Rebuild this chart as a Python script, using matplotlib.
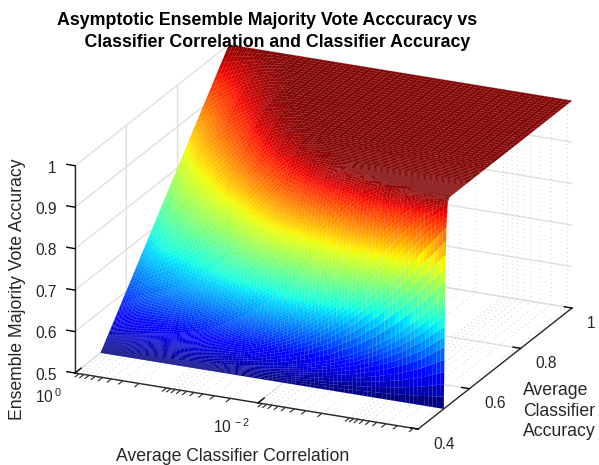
import numpy as np
import matplotlib
matplotlib.use("Agg")
import matplotlib.pyplot as plt
import matplotlib.transforms as mtrans
from mpl_toolkits.mplot3d import proj3d

plt.rcParams['font.family'] = ['Liberation Sans', 'DejaVu Sans']
plt.rcParams['mathtext.fontset'] = 'custom'
plt.rcParams['mathtext.rm'] = 'Liberation Sans'
plt.rcParams['mathtext.default'] = 'regular'

# decades below 1 of the average classifier correlation (10^-d)
corr_decades = [0, .25, .5, .75, 1, 1.25, 1.5, 1.75, 2, 2.25, 2.5, 2.75, 3, 3.25, 3.5, 3.75]
accuracy = [.5, .5025, .505, .51, .515, .52, .525, .53, .54, .55, .56, .57, .58, .6, .63, .66,
            .7, .75, .8, .85, .9, .95, 1]
vote_acc = [
    [.5, .5, .5, .5, .5, .5, .5, .5, .5, .5, .5, .5, .5, .5, .5, .5],
    [.5025, .5035, .504, .505, .506, .508, .511, .515, .52, .527, .535, .547, .563, .583, .61, .647],
    [.505, .507, .508, .51, .513, .517, .522, .53, .54, .553, .571, .594, .624, .663, .712, .773],
    [.51, .514, .517, .52, .525, .533, .545, .56, .579, .605, .639, .682, .736, .80, .869, .933],
    [.515, .521, .525, .53, .538, .55, .567, .589, .618, .655, .703, .761, .829, .898, .954, .988],
    [.52, .528, .534, .54, .55, .567, .589, .618, .655, .703, .762, .828, .897, .954, .988, .999],
    [.525, .534, .542, .55, .563, .583, .61, .647, .691, .748, .813, .882, .943, .983, .998, 1],
    [.53, .54, .55, .56, .575, .60, .632, .674, .726, .788, .857, .922, .971, .994, 1, 1],
    [.54, .555, .567, .58, .60, .632, .673, .726, .788, .857, .922, .971, .994, 1, 1, 1],
    [.55, .569, .584, .60, .625, .664, .714, .775, .843, .91, .963, .991, .999, 1, 1, 1],
    [.56, .583, .60, .62, .649, .695, .752, .819, .887, .946, .984, .998, 1, 1, 1, 1],
    [.57, .597, .615, .64, .672, .724, .785, .855, .921, .97, .994, .999, 1, 1, 1, 1],
    [.58, .61, .63, .66, .696, .753, .819, .889, .947, .985, .998, 1, 1, 1, 1, 1],
    [.6, .636, .66, .695, .74, .805, .874, .937, .979, .997, 1, 1, 1, 1, 1, 1],
    [.63, .675, .71, .75, .80, .872, .934, .978, .996, 1, 1, 1, 1, 1, 1, 1],
    [.66, .71, .75, .80, .858, .924, .971, .994, 1, 1, 1, 1, 1, 1, 1, 1],
    [.7, .76, .80, .855, .916, .967, .993, 1, 1, 1, 1, 1, 1, 1, 1, 1],
    [.75, .81, .86, .91, .966, .992, .999, 1, 1, 1, 1, 1, 1, 1, 1, 1],
    [.8, .86, .91, .95, .991, .999, 1, 1, 1, 1, 1, 1, 1, 1, 1, 1],
    [.85, .90, .95, .98, .999, 1, 1, 1, 1, 1, 1, 1, 1, 1, 1, 1],
    [.9, .94, .975, .995, 1, 1, 1, 1, 1, 1, 1, 1, 1, 1, 1, 1],
    [.95, .975, .993, 1, 1, 1, 1, 1, 1, 1, 1, 1, 1, 1, 1, 1],
    [1, 1, 1, 1, 1, 1, 1, 1, 1, 1, 1, 1, 1, 1, 1, 1],
]
x_tick_decades = [0, 2]
x_tick_labels = ['$10^{\\,0}$', '$10^{\\,-2}$']
y_ticks = [.4, .6, .8, 1]
y_tick_labels = ['0.4', '0.6', '0.8', '1']
z_ticks = [.5, .6, .7, .8, .9, 1]
z_tick_labels = ['0.5', '0.6', '0.7', '0.8', '0.9', '1']
x_limit = 3.75

W, H = 599, 465
fig = plt.figure(figsize=(W / 100, H / 100), dpi=100, facecolor='white')
ax = fig.add_axes([0, 0, 1, 1], projection='3d', computed_zorder=False)
ax.set_proj_type('ortho')
ax.view_init(elev=21, azim=-65.5)
ax.set_box_aspect((377, 371, 222))
ax.set_xlim(0, x_limit, view_margin=0)
ax.set_ylim(.4, 1, view_margin=0)
ax.set_zlim(.5, 1, view_margin=0)

# smooth colour across each table cell, as with interpolated shading
xs = np.array(corr_decades, float)
ys = np.array(accuracy, float)
zs = np.array(vote_acc, float)
def subdivide(v, k):
    idx = np.arange((len(v) - 1) * k + 1) / k
    return np.interp(idx, np.arange(len(v)), v)
kx, ky = 6, 5
xf, yf = subdivide(xs, kx), subdivide(ys, ky)
zf = np.array([subdivide(r, kx) for r in zs])
zf = np.array([subdivide(c, ky) for c in zf.T]).T
XF, YF = np.meshgrid(xf, yf)
cell_colors = plt.get_cmap('jet')((zf - .5) / .5)
ax.plot_surface(XF, YF, zf, facecolors=cell_colors, rcount=len(yf), ccount=len(xf),
                linewidth=.07, antialiased=True, shade=False, zorder=3)

# minor decades: ticks on the axis, dotted grid on floor and back wall
minor = [d + (-np.log10(m / 10)) for d in range(4) for m in range(1, 10)]
minor = [m for m in minor if 0 < m <= x_limit and m not in x_tick_decades]
minor = sorted(set(np.round(minor, 5)))
dark = '#262626'
for m in minor:
    ax.plot([m, m], [.4, .4 - .016], [.5, .5], color=dark, lw=.8, zorder=5, clip_on=False)
    ax.plot([m, m, m], [.4, 1, 1], [.5, .5, 1], color='#bdbdbd', lw=.6, ls=(0, (1, 4)), zorder=1)

ax.set_xticks(x_tick_decades, x_tick_labels)
ax.set_yticks(y_ticks, y_tick_labels)
ax.set_zticks(z_ticks, z_tick_labels)
ax.tick_params(labelsize=11.2, labelcolor=dark)
ax.tick_params(axis='x', pad=-2)
ax.tick_params(axis='y', pad=-2)
ax.tick_params(axis='z', pad=-2)
ax.zaxis.set_ticks_position('lower')
ax.zaxis._get_tickdir = lambda pos: 0   # z ticks run along the x direction

for axis, fac in ((ax.xaxis, .5), (ax.yaxis, .28), (ax.zaxis, .3)):
    axis.set_pane_color((1, 1, 1, 0))
    axis.pane.set_edgecolor((1, 1, 1, 0))
    axis.line.set_color(dark)
    axis.line.set_linewidth(1)
    axis._axinfo['grid'].update(color='#dfdfdf', linewidth=1, linestyle='-')
    axis._axinfo['tick'].update(inward_factor=0, outward_factor=fac, linewidth={True: 1, False: .8})
    axis._axinfo['tick']['color'] = dark

# place the box: left, right corners in pixels
def px(p):
    a, b, _ = proj3d.proj_transform(*p, ax.get_proj())
    return ax.transData.transform((a, b))
left, right = (0, .4, .5), (x_limit, 1, .5)
ax.apply_aspect()
span = px(right)[0] - px(left)[0]
side = H * (572 - 75) / span
ax.set_position([0, 0, side / W, side / H])
ax.apply_aspect()
off = px(left)
ax.set_position([(75 - off[0]) / W, ((H - 373) - off[1]) / H, side / W, side / H])

# tick label alignment and fine offsets (pixels)
def nudge(axis, ha, dx, dy):
    tr = ax.transData + mtrans.Affine2D().translate(dx, dy)
    for tick in axis.get_major_ticks():
        tick.label1.set_ha(ha)
        tick.label1.get_transform = lambda t=tr: t
nudge(ax.xaxis, 'center', -22, -5)
nudge(ax.yaxis, 'left', 5, 0)
nudge(ax.zaxis, 'right', -4, 7)

fig.text(267.5 / W, 1 - 31.5 / H,
         'Asymptotic Ensemble Majority Vote Acccuracy vs\n    Classifier Correlation and Classifier Accuracy',
         ha='center', va='center', fontsize=12.8, fontweight='bold', color='black', linespacing=1.42)
fig.text(233 / W, 1 - 456 / H, 'Average Classifier Correlation', ha='center', va='center',
         fontsize=12.7, color=dark)
fig.text(18 / W, 1 - 289 / H, 'Ensemble Majority Vote Accuracy', ha='center', va='center',
         rotation=90, fontsize=12.7, color=dark)
fig.text(523 / W, 1 - 411 / H, 'Average\nClassifier\nAccuracy', ha='left', va='center',
         fontsize=12.7, color=dark, linespacing=1.3)

fig.savefig('out.png', dpi=100)
